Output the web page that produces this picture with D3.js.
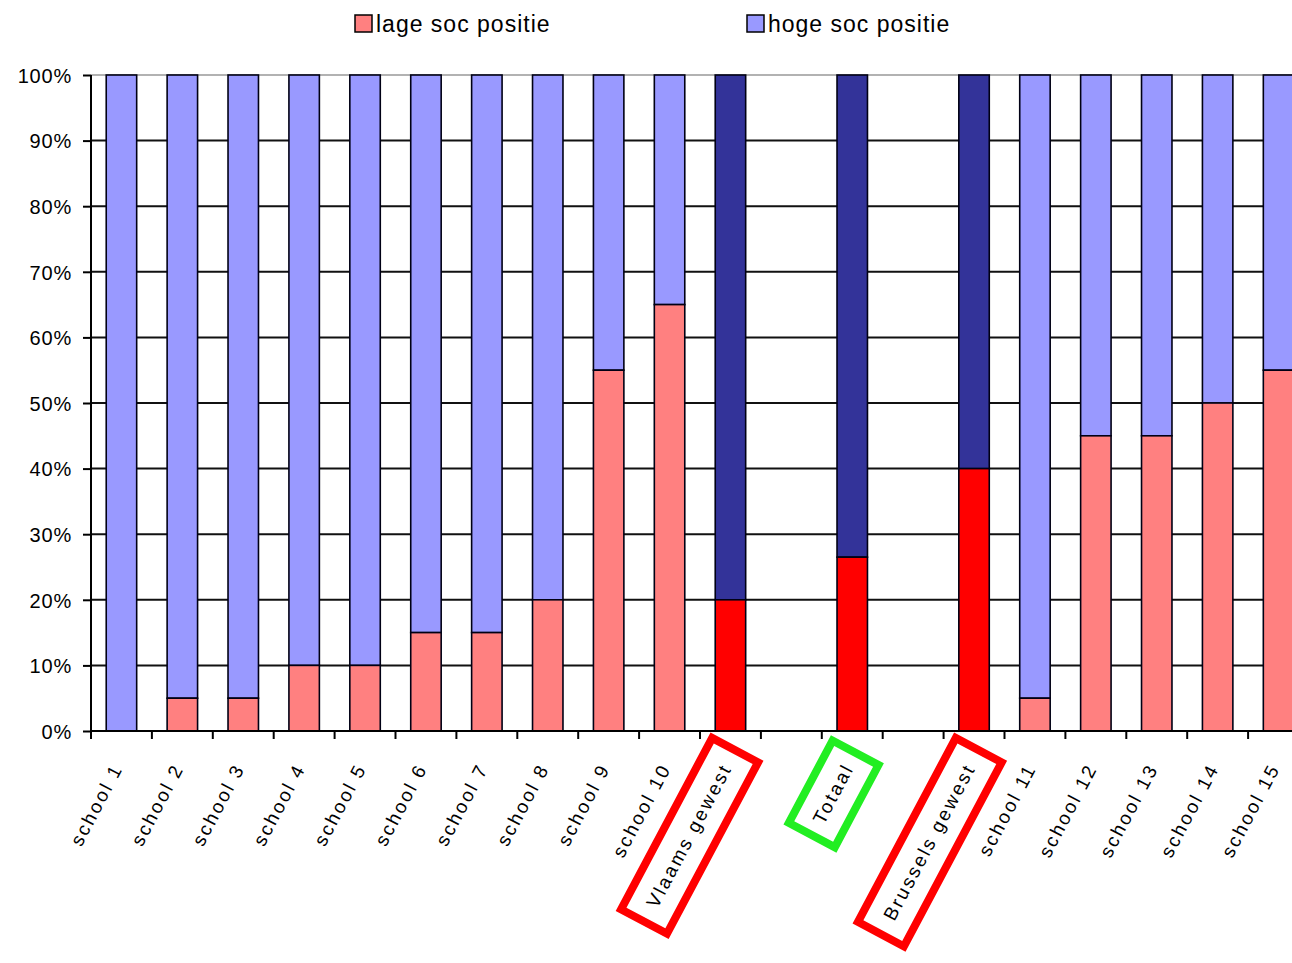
<!DOCTYPE html>
<html>
<head>
<meta charset="utf-8">
<script src="https://cdn.jsdelivr.net/npm/d3@7/dist/d3.min.js"></script>
<style>
  html, body { margin: 0; padding: 0; background: #ffffff; }
  svg { display: block; }
  text { font-family: "Liberation Sans", Arial, sans-serif; fill: #000; }
</style>
</head>
<body>
<svg id="chart" width="1292" height="963"></svg>
<script>
// Schools and the regional / overall aggregates ("" = empty spacer slot)
const categories = [
  "school 1", "school 2", "school 3", "school 4", "school 5",
  "school 6", "school 7", "school 8", "school 9", "school 10",
  "Vlaams gewest", "", "Totaal", "", "Brussels gewest",
  "school 11", "school 12", "school 13", "school 14", "school 15"
];
// Share of pupils with a low socio-economic position (%)
const lageSoc = [0, 5, 5, 10, 10, 15, 15, 20, 55, 65, 20, null, 26.5, null, 40, 5, 45, 45, 50, 55];
// Share of pupils with a high socio-economic position (%)
const hogeSoc = [100, 95, 95, 90, 90, 85, 85, 80, 45, 35, 80, null, 73.5, null, 60, 95, 55, 55, 50, 45];
// Aggregate rows, drawn in stronger colours and framed below the axis
const aggregates = ["Vlaams gewest", "Totaal", "Brussels gewest"];
const frameColours = { "Vlaams gewest": "#ff0000", "Totaal": "#22ee22", "Brussels gewest": "#ff0000" };
const yTicks = [0, 10, 20, 30, 40, 50, 60, 70, 80, 90, 100];
const seriesNames = ["lage soc positie", "hoge soc positie"];

const colours = {
  lage: "#ff8080", hoge: "#9999ff",
  lageAgg: "#ff0000", hogeAgg: "#333399"
};

const svg = d3.select("#chart");
svg.append("rect").attr("width", 1292).attr("height", 963).attr("fill", "#fff");

const plotLeft = 91, plotTop = 75, plotBottom = 731;
const step = 60.9;
const x = d3.scaleBand()
  .domain(d3.range(categories.length))
  .range([plotLeft, plotLeft + step * categories.length])
  .paddingInner(0.5)
  .paddingOuter(0.25);
const y = d3.scaleLinear().domain([0, 100]).range([plotBottom, plotTop]);
const plotRight = x.range()[1];

// horizontal gridlines
svg.append("g").selectAll("line")
  .data(yTicks.filter(d => d > 0 && d < 100))
  .join("line")
  .attr("x1", plotLeft).attr("x2", plotRight)
  .attr("y1", d => y(d)).attr("y2", d => y(d))
  .attr("stroke", "#111").attr("stroke-width", 2);
// plot-area top border
svg.append("line")
  .attr("x1", plotLeft).attr("x2", plotRight)
  .attr("y1", y(100)).attr("y2", y(100))
  .attr("stroke", "#999").attr("stroke-width", 1.5);

// stacked bars
const rows = categories.map((c, i) => ({ c, i, lage: lageSoc[i], hoge: hogeSoc[i] }))
  .filter(d => d.lage !== null);
const barG = svg.append("g");
rows.forEach(d => {
  const agg = aggregates.includes(d.c);
  barG.append("rect")
    .attr("x", x(d.i)).attr("width", x.bandwidth())
    .attr("y", y(d.lage + d.hoge)).attr("height", y(d.lage) - y(d.lage + d.hoge))
    .attr("fill", agg ? colours.hogeAgg : colours.hoge)
    .attr("stroke", "#000014").attr("stroke-width", 1.6);
  barG.append("rect")
    .attr("x", x(d.i)).attr("width", x.bandwidth())
    .attr("y", y(d.lage)).attr("height", y(0) - y(d.lage))
    .attr("fill", agg ? colours.lageAgg : colours.lage)
    .attr("stroke", "#000014").attr("stroke-width", 1.6);
});

// y axis
const yAxis = d3.axisLeft(y).tickValues(yTicks).tickSize(8).tickFormat(d => d + "%");
const yg = svg.append("g").attr("transform", `translate(${plotLeft},0)`).call(yAxis);
yg.select(".domain").attr("stroke", "#000").attr("stroke-width", 2).attr("d", `M0,${plotTop}V${plotBottom}`);
yg.selectAll(".tick line").attr("stroke", "#000").attr("stroke-width", 2);
yg.selectAll(".tick text")
  .attr("x", -19).attr("dy", "0.36em")
  .style("font-size", "20px").style("letter-spacing", "0.8px");
yg.attr("font-family", null).attr("font-size", null);

// x axis baseline and slot-boundary ticks
svg.append("line")
  .attr("x1", plotLeft).attr("x2", plotRight)
  .attr("y1", plotBottom).attr("y2", plotBottom)
  .attr("stroke", "#000").attr("stroke-width", 2);
svg.append("g").selectAll("line")
  .data(d3.range(categories.length + 1))
  .join("line")
  .attr("x1", k => x.range()[0] + k * x.step())
  .attr("x2", k => x.range()[0] + k * x.step())
  .attr("y1", plotBottom).attr("y2", plotBottom + 8)
  .attr("stroke", "#000").attr("stroke-width", 2);

// rotated category labels
const angle = -62;
const labelG = svg.append("g");
categories.forEach((c, i) => {
  if (!c) return;
  const cx = x(i) + x.bandwidth() / 2;
  const g = labelG.append("g").attr("transform", `translate(${cx + 2},${plotBottom + 37}) rotate(${angle})`);
  const t = g.append("text")
    .attr("text-anchor", "end")
    .style("font-size", "19px")
    .style("letter-spacing", "2.4px")
    .text(c);
  if (aggregates.includes(c)) {
    const len = t.node().getComputedTextLength();
    const pad = c === "Totaal" ? 14 : 17;
    g.append("rect")
      .attr("x", -len - pad).attr("y", -32)
      .attr("width", len + pad * 2).attr("height", 52)
      .attr("fill", "none")
      .attr("stroke", frameColours[c]).attr("stroke-width", 8);
  }
});

// legend
const legend = svg.append("g");
const legendX = [355, 747];
seriesNames.forEach((name, i) => {
  const g = legend.append("g").attr("transform", `translate(${legendX[i]},15)`);
  g.append("rect").attr("width", 17).attr("height", 17)
    .attr("fill", i === 0 ? colours.lage : colours.hoge)
    .attr("stroke", "#000").attr("stroke-width", 1.5);
  g.append("text").attr("x", 21).attr("y", 17)
    .style("font-size", "23px").style("letter-spacing", "1px")
    .text(name);
});
</script>
</body>
</html>
